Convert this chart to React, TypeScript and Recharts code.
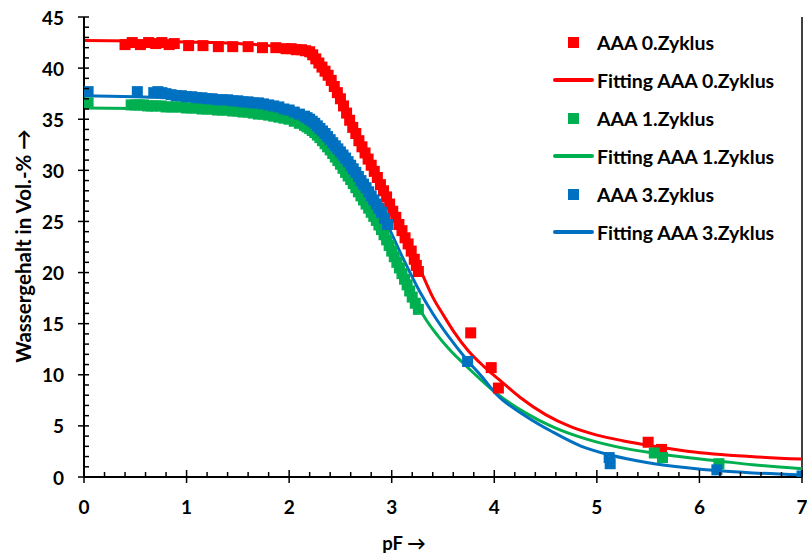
import { ComposedChart, Scatter, Line, XAxis, YAxis, ReferenceLine } from 'recharts'

const RED = '#FF0000'
const GREEN = '#00B050'
const BLUE = '#0070C0'
const FONT = 'Lato, "Open Sans", sans-serif'

// pF, Wassergehalt (Vol.-%)
const messung0: [number, number][] = [
  [0.40, 42.3], [0.47, 42.5], [0.55, 42.3], [0.63, 42.5], [0.70, 42.4], [0.76, 42.5], [0.83, 42.3], [0.88, 42.4],
  [1.02, 42.2], [1.16, 42.2], [1.31, 42.1], [1.45, 42.1], [1.60, 42.1], [1.74, 42.0], [1.87, 42.0], [1.97, 41.9],
  [2.02, 41.9], [2.07, 41.8], [2.12, 41.8], [2.16, 41.7], [2.20, 41.6], [2.23, 41.3], [2.26, 40.9], [2.29, 40.5],
  [2.32, 40.1], [2.35, 39.7], [2.38, 39.3], [2.41, 38.8], [2.44, 38.2], [2.47, 37.6], [2.50, 37.0], [2.53, 36.3],
  [2.56, 35.6], [2.59, 34.9], [2.62, 34.2], [2.65, 33.6], [2.68, 32.9], [2.71, 32.3], [2.74, 31.7], [2.77, 31.1],
  [2.80, 30.5], [2.83, 29.9], [2.86, 29.3], [2.89, 28.6], [2.92, 28.0], [2.95, 27.4], [2.98, 26.7], [3.01, 26.0],
  [3.04, 25.4], [3.07, 24.7], [3.10, 24.1], [3.13, 23.4], [3.16, 22.8], [3.19, 22.1], [3.22, 21.3], [3.24, 20.7],
  [3.26, 20.1], [3.77, 14.1], [3.97, 10.7], [4.04, 8.7], [5.50, 3.4], [5.63, 2.7],
]

const messung1: [number, number][] = [
  [0.04, 36.6], [0.46, 36.4], [0.50, 36.4], [0.54, 36.4], [0.58, 36.4], [0.62, 36.3], [0.66, 36.3], [0.70, 36.3],
  [0.75, 36.3], [0.80, 36.2], [0.85, 36.2], [0.90, 36.2], [0.95, 36.2], [1.00, 36.1], [1.05, 36.1], [1.10, 36.1],
  [1.15, 36.0], [1.20, 36.0], [1.25, 36.0], [1.30, 35.9], [1.35, 35.9], [1.40, 35.9], [1.45, 35.8], [1.50, 35.8],
  [1.55, 35.7], [1.60, 35.7], [1.65, 35.6], [1.70, 35.5], [1.75, 35.5], [1.80, 35.4], [1.85, 35.3], [1.90, 35.2],
  [1.95, 35.1], [2.00, 35.0], [2.05, 34.8], [2.10, 34.6], [2.15, 34.4], [2.175, 34.25],
  [2.200, 34.1], [2.225, 33.9], [2.250, 33.7], [2.275, 33.45], [2.300, 33.2], [2.325, 32.9], [2.350, 32.6],
  [2.375, 32.3], [2.400, 32.0], [2.425, 31.65], [2.450, 31.3], [2.475, 30.95], [2.500, 30.6], [2.525, 30.2],
  [2.550, 29.8], [2.575, 29.45], [2.600, 29.1], [2.625, 28.7], [2.650, 28.3], [2.675, 27.9], [2.700, 27.5],
  [2.725, 27.1], [2.750, 26.7], [2.775, 26.3], [2.800, 25.9], [2.825, 25.5], [2.850, 25.1], [2.875, 24.65],
  [2.900, 24.2], [2.925, 23.7], [2.950, 23.2], [2.975, 22.65], [3.000, 22.1], [3.025, 21.55], [3.050, 21.0],
  [3.075, 20.45], [3.100, 19.9], [3.125, 19.35], [3.150, 18.8], [3.175, 18.2], [3.200, 17.6], [3.230, 17.0],
  [3.260, 16.4], [5.56, 2.35], [5.64, 1.9], [6.19, 1.3],
]

const messung3: [number, number][] = [
  [0.04, 37.7], [0.52, 37.7], [0.68, 37.6], [0.72, 37.7], [0.76, 37.6], [0.80, 37.5], [0.85, 37.4], [0.90, 37.3],
  [0.95, 37.3], [1.00, 37.2], [1.05, 37.2], [1.10, 37.1], [1.15, 37.1], [1.20, 37.0], [1.25, 37.0], [1.30, 36.9],
  [1.35, 36.9], [1.40, 36.9], [1.45, 36.8], [1.50, 36.8], [1.55, 36.7], [1.60, 36.7], [1.65, 36.6], [1.70, 36.6],
  [1.75, 36.5], [1.80, 36.4], [1.85, 36.3], [1.90, 36.2], [1.95, 36.0], [2.00, 35.9], [2.05, 35.7], [2.10, 35.5],
  [2.15, 35.3], [2.175, 35.15],
  [2.200, 35.0], [2.225, 34.8], [2.250, 34.6], [2.275, 34.35], [2.300, 34.1], [2.325, 33.85], [2.350, 33.6],
  [2.375, 33.3], [2.400, 33.0], [2.425, 32.7], [2.450, 32.4], [2.475, 32.1], [2.500, 31.8], [2.525, 31.5],
  [2.550, 31.2], [2.575, 30.85], [2.600, 30.5], [2.625, 30.15], [2.650, 29.8], [2.675, 29.4], [2.700, 29.0],
  [2.725, 28.65], [2.750, 28.3], [2.775, 27.9], [2.800, 27.5], [2.825, 27.1], [2.850, 26.7], [2.875, 26.3],
  [2.900, 25.9], [2.930, 25.3], [2.960, 24.7],
  [3.74, 11.3], [5.12, 1.9], [5.13, 1.3], [6.17, 0.7], [7.00, 0.1],
]

// fitted curves
const fit0: [number, number][] = [
  [0, 42.7], [0.5, 42.65], [1.0, 42.55], [1.5, 42.4], [1.8, 42.2], [2.0, 41.9], [2.15, 41.4], [2.25, 40.6],
  [2.35, 39.5], [2.5, 37.0], [2.7, 32.6], [2.9, 28.3], [3.1, 24.2], [3.3, 19.8], [3.4, 17.6], [3.5, 15.9],
  [3.6, 14.3], [3.75, 12.3], [3.9, 10.8], [4.05, 9.5], [4.25, 7.8], [4.5, 6.1], [4.75, 4.9], [5.0, 4.1],
  [5.25, 3.55], [5.5, 3.1], [5.9, 2.5], [6.5, 2.0], [7.0, 1.75],
]

const fit1: [number, number][] = [
  [0, 36.1], [0.5, 36.05], [1.0, 35.95], [1.5, 35.75], [1.8, 35.5], [2.0, 35.2], [2.2, 34.5], [2.4, 32.6],
  [2.6, 29.6], [2.8, 26.3], [3.0, 22.4], [3.1, 20.3], [3.2, 18.0], [3.27, 16.5], [3.45, 13.8], [3.57, 12.4],
  [3.69, 11.2], [3.85, 9.7], [4.02, 8.2], [4.3, 6.3], [4.57, 4.9], [4.9, 3.7], [5.22, 2.9], [5.55, 2.35],
  [5.88, 1.9], [6.2, 1.55], [6.52, 1.2], [7.0, 0.8],
]

const fit3: [number, number][] = [
  [0, 37.3], [0.5, 37.2], [1.0, 37.05], [1.5, 36.8], [1.8, 36.45], [2.0, 36.0], [2.2, 35.2], [2.4, 33.3],
  [2.6, 30.5], [2.8, 27.3], [2.96, 24.6], [3.1, 21.6], [3.27, 18.2], [3.4, 16.0], [3.55, 13.8], [3.73, 11.5],
  [3.88, 9.8], [4.02, 8.1], [4.3, 6.0], [4.57, 4.4], [4.85, 3.0], [5.13, 2.15], [5.5, 1.4], [5.88, 0.9],
  [6.2, 0.6], [6.52, 0.4], [7.0, 0.2],
]

const xTickLabels = [0, 1, 2, 3, 4, 5, 6, 7]
const yTickLabels = [0, 5, 10, 15, 20, 25, 30, 35, 40, 45]

const legendItems = [
  { label: 'AAA 0.Zyklus', color: RED, kind: 'square' },
  { label: 'Fitting AAA 0.Zyklus', color: RED, kind: 'line' },
  { label: 'AAA 1.Zyklus', color: GREEN, kind: 'square' },
  { label: 'Fitting AAA 1.Zyklus', color: GREEN, kind: 'line' },
  { label: 'AAA 3.Zyklus', color: BLUE, kind: 'square' },
  { label: 'Fitting AAA 3.Zyklus', color: BLUE, kind: 'line' },
]

const toXY = (arr: [number, number][]) => arr.map(([x, y]) => ({ x, y }))

// minor ticks every 0.2 pF / 1 Vol.-%
const xTicks = Array.from({ length: 36 }, (_, i) => Math.round(i * 2) / 10)
const yTicks = Array.from({ length: 46 }, (_, i) => i)

const isMajorX = (v: number) => xTickLabels.some((t) => Math.abs(t - v) < 1e-6)
const isMajorY = (v: number) => yTickLabels.includes(v)

function XTick({ x, y, payload }: any) {
  const major = isMajorX(payload.value)
  return (
    <g>
      <line x1={x} x2={x} y1={major ? y - 7 : y - 5} y2={major ? y + 6 : y} stroke="#000" strokeWidth={1.5} />
      {major && (
        <text x={x} y={y + 29} textAnchor="middle" dominantBaseline="central"
          fontFamily={FONT} fontWeight={700} fontSize={19} fill="#000">
          {payload.value}
        </text>
      )}
    </g>
  )
}

function YTick({ x, y, payload }: any) {
  const major = isMajorY(payload.value)
  return (
    <g>
      <line x1={major ? x - 6 : x} x2={x + 5} y1={y} y2={y} stroke="#000" strokeWidth={1.5} />
      {major && (
        <text x={x - 20} y={y} textAnchor="end" dominantBaseline="central"
          fontFamily={FONT} fontWeight={700} fontSize={19} fill="#000">
          {payload.value}
        </text>
      )}
    </g>
  )
}

const square = (color: string) => (props: any) => (
  <rect x={props.cx - 5.5} y={props.cy - 5.5} width={11} height={11} fill={color} />
)

function LegendBox() {
  return (
    <div style={{ position: 'absolute', left: 553, top: 23, fontFamily: FONT, fontWeight: 700, fontSize: 19.5 }}>
      {legendItems.map((it) => (
        <div key={it.label} style={{ display: 'flex', alignItems: 'center', height: 38 }}>
          <div style={{ width: 41, display: 'flex', justifyContent: 'center', alignItems: 'center' }}>
            {it.kind === 'square'
              ? <div style={{ width: 11, height: 11, background: it.color }} />
              : <div style={{ width: 41, height: 3.5, borderRadius: 2, background: it.color }} />}
          </div>
          <span style={{ marginLeft: 3, whiteSpace: 'nowrap' }}>{it.label}</span>
        </div>
      ))}
    </div>
  )
}

export default function App() {
  return (
    <div style={{ position: 'absolute', left: 0, top: 0, width: 807, height: 553, background: '#fff' }}>
      <ComposedChart width={807} height={553} margin={{ top: 17, right: 5, bottom: 0, left: 0 }}>
        <XAxis type="number" dataKey="x" domain={[0, 7]} ticks={xTicks} interval={0} allowDataOverflow
          height={76} tickSize={0} tickMargin={0} tickLine={false} tick={XTick}
          axisLine={{ stroke: '#000', strokeWidth: 2 }} />
        <YAxis type="number" dataKey="y" domain={[0, 45]} ticks={yTicks} interval={0} allowDataOverflow
          width={84} tickSize={0} tickMargin={0} tickLine={false} tick={YTick}
          axisLine={{ stroke: '#000', strokeWidth: 2 }} />
        <ReferenceLine x={7} stroke="#000" strokeWidth={1.5} />
        <Scatter data={toXY(messung0)} dataKey="y" shape={square(RED)} isAnimationActive={false} />
        <Line data={toXY(fit0)} dataKey="y" type="monotone" stroke={RED} strokeWidth={3} dot={false} activeDot={false} isAnimationActive={false} />
        <Scatter data={toXY(messung1)} dataKey="y" shape={square(GREEN)} isAnimationActive={false} />
        <Line data={toXY(fit1)} dataKey="y" type="monotone" stroke={GREEN} strokeWidth={3} dot={false} activeDot={false} isAnimationActive={false} />
        <Scatter data={toXY(messung3)} dataKey="y" shape={square(BLUE)} isAnimationActive={false} />
        <Line data={toXY(fit3)} dataKey="y" type="monotone" stroke={BLUE} strokeWidth={3} dot={false} activeDot={false} isAnimationActive={false} />
      </ComposedChart>
      <LegendBox />
      <div style={{ position: 'absolute', left: 23, top: 246, transform: 'translate(-50%, -50%) rotate(-90deg)',
        whiteSpace: 'nowrap', fontFamily: FONT, fontWeight: 700, fontSize: 20.5 }}>
        Wassergehalt in Vol.-% →
      </div>
      <div style={{ position: 'absolute', left: 404, top: 543, transform: 'translate(-50%, -50%)',
        whiteSpace: 'nowrap', fontFamily: FONT, fontWeight: 700, fontSize: 18.5 }}>
        pF →
      </div>
    </div>
  )
}
